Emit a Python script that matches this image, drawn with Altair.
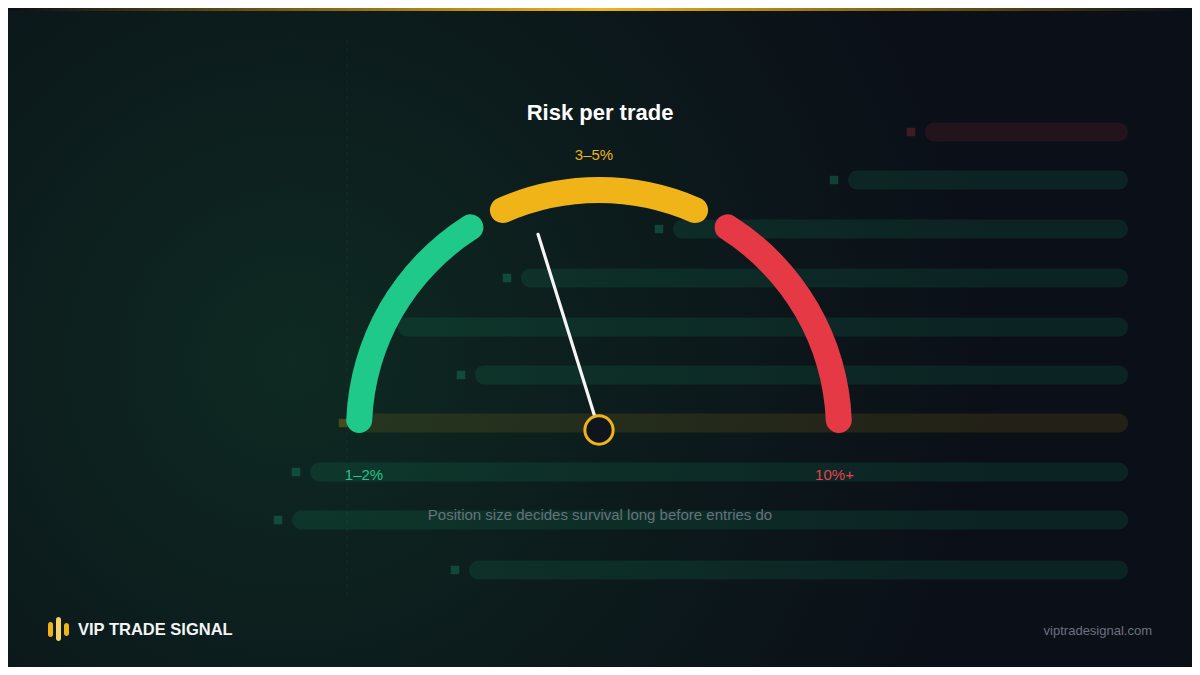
import math
import altair as alt
import pandas as pd

# ---------------- data ----------------
# gauge segments (angles in degrees, counter-clockwise from east)
SEGMENTS = ["1–2%", "3–5%", "10%+"]
SEG_START_DEG = [180.7, 116.7, 60.7]
SEG_END_DEG = [119.3, 63.3, -0.7]
SEG_COLORS = ["#1ec98a", "#f2b91c", "#e8404c"]

NEEDLE_DEG = [107.3]

# labels of the gauge
LABELS = ["1–2%", "3–5%", "10%+"]
LABEL_X = [364, 594, 834.5]
LABEL_Y = [475, 155, 475]
LABEL_COLORS = ["#25c48b", "#eab41c", "#e4434f"]

# decorative background bars
BAR_Y = [132, 180, 229, 278, 327, 375, 423, 472, 520, 570]
BAR_START = [925, 848, 673, 521, 398, 475, 357, 310, 292, 469]
BAR_END = [1128] * 10
BAR_TONE = ["red", "green", "green", "green", "green", "green", "yellow", "green", "green", "green"]

# logo bars
LOGO_X = [50.5, 58.5, 66.5]
LOGO_Y1 = [622, 617, 623]
LOGO_Y2 = [637, 641, 636]
LOGO_COLORS = ["#f0b418", "#f7d26a", "#f0b418"]

TITLE = "Risk per trade"
SUBTITLE = "Position size decides survival long before entries do"
BRAND = "VIP TRADE SIGNAL"
URL = "viptradesignal.com"

# ---------------- layout ----------------
W, H = 1184, 659
GAUGE_CX, GAUGE_CY = 599, 430
FONT = "Liberation Sans"

xs = alt.Scale(domain=[8, 8 + W], nice=False, zero=False)
ys = alt.Scale(domain=[8, 8 + H], nice=False, zero=False, reverse=True)


def X(f):
    return alt.X(f, type="quantitative", scale=xs, axis=None)


def Y(f):
    return alt.Y(f, type="quantitative", scale=ys, axis=None)


tone_scale = alt.Scale(domain=["green", "yellow", "red"], range=["#1ec98a", "#f0b418", "#e63946"])

# background gradient
bg = alt.Chart(pd.DataFrame({"a": [0]})).mark_rect(
    color={
        "gradient": "radial",
        "x1": 0.24, "y1": 0.52, "r1": 0.0,
        "x2": 0.24, "y2": 0.52, "r2": 0.6,
        "stops": [
            {"offset": 0.0, "color": "#0e2a22"},
            {"offset": 0.5, "color": "#0c1b1c"},
            {"offset": 1.0, "color": "#0b0f17"},
        ],
    }
).encode(x=alt.value(0), x2=alt.value(W), y=alt.value(0), y2=alt.value(H))

gold_line = alt.Chart(pd.DataFrame({"a": [0]})).mark_rect(
    color={
        "gradient": "linear",
        "x1": 0, "y1": 0, "x2": 1, "y2": 0,
        "stops": [
            {"offset": 0.0, "color": "#0b0f17"},
            {"offset": 0.5, "color": "#f0b418"},
            {"offset": 1.0, "color": "#0b0f17"},
        ],
    }
).encode(x=alt.value(0), x2=alt.value(W), y=alt.value(0), y2=alt.value(3))

vline = alt.Chart(pd.DataFrame({"x": [347], "y1": [40], "y2": [600]})).mark_rule(
    color="#1ec98a", opacity=0.07, strokeDash=[4, 4], strokeWidth=1
).encode(x=X("x"), y=Y("y1"), y2="y2:Q")

bars_df = pd.DataFrame({"row_y": BAR_Y, "start": BAR_START, "end": BAR_END, "tone": BAR_TONE})

bars = alt.Chart(bars_df).transform_calculate(
    y1="datum.row_y - 9.5", y2="datum.row_y + 9.5"
).mark_rect(cornerRadius=9.5, opacity=0.11).encode(
    x=X("start"), x2="end:Q", y=Y("y1"), y2="y2:Q",
    color=alt.Color("tone:N", scale=tone_scale, legend=None),
)

squares = alt.Chart(bars_df).transform_calculate(
    sx="datum.start - 14"
).mark_square(size=72, opacity=0.25).encode(
    x=X("sx"), y=Y("row_y"),
    color=alt.Color("tone:N", scale=tone_scale, legend=None),
)

seg_df = pd.DataFrame({
    "segment": SEGMENTS, "start": SEG_START_DEG, "end": SEG_END_DEG,
    "cx": [GAUGE_CX] * 3, "cy": [GAUGE_CY] * 3,
})

arcs = alt.Chart(seg_df).transform_calculate(
    t1="(90 - datum.start) * PI / 180 + 2 * PI",
    t2="(90 - datum.end) * PI / 180 + 2 * PI",
).mark_arc(innerRadius=227, outerRadius=253, cornerRadius=13).encode(
    x=X("cx"), y=Y("cy"),
    theta=alt.Theta("t1:Q", scale=None), theta2="t2:Q",
    color=alt.Color("segment:N", scale=alt.Scale(domain=SEGMENTS, range=SEG_COLORS), legend=None),
)

needle_df = pd.DataFrame({"deg": NEEDLE_DEG, "cx": [GAUGE_CX], "cy": [GAUGE_CY]})
needle = alt.Chart(needle_df).transform_calculate(
    rad="datum.deg * PI / 180",
).transform_calculate(
    x1="datum.cx + 15 * cos(datum.rad)", y1="datum.cy - 15 * sin(datum.rad)",
    x2="datum.cx + 205 * cos(datum.rad)", y2="datum.cy - 205 * sin(datum.rad)",
).mark_rule(color="#f5f5f5", strokeWidth=3.2, strokeCap="round").encode(
    x=X("x1"), y=Y("y1"), x2="x2:Q", y2="y2:Q"
)

hub = alt.Chart(needle_df).mark_point(
    shape="circle", size=800, filled=True, color="#10141c", stroke="#f0b418",
    strokeWidth=3, opacity=1, fillOpacity=1, strokeOpacity=1,
).encode(x=X("cx"), y=Y("cy"))

lab_df = pd.DataFrame({"label": LABELS, "x": LABEL_X, "y": LABEL_Y, "c": LABEL_COLORS})
labels = alt.Chart(lab_df).mark_text(font=FONT, fontSize=15, baseline="middle", align="center").encode(
    x=X("x"), y=Y("y"), text="label:N", color=alt.Color("c:N", scale=None)
)

txt_df = pd.DataFrame({
    "t": [TITLE, SUBTITLE],
    "x": [600, 600], "y": [113, 515],
})
title = alt.Chart(txt_df.iloc[[0]]).mark_text(
    font=FONT, fontSize=22, fontWeight="bold", color="#ffffff", baseline="middle"
).encode(x=X("x"), y=Y("y"), text="t:N")
subtitle = alt.Chart(txt_df.iloc[[1]]).mark_text(
    font=FONT, fontSize=15, color="#66737a", baseline="middle"
).encode(x=X("x"), y=Y("y"), text="t:N")

logo_df = pd.DataFrame({"x": LOGO_X, "y1": LOGO_Y1, "y2": LOGO_Y2, "c": LOGO_COLORS})
logo = alt.Chart(logo_df).transform_calculate(
    xa="datum.x - 2.5", xb="datum.x + 2.5"
).mark_rect(cornerRadius=2.5).encode(
    x=X("xa"), x2="xb:Q", y=Y("y1"), y2="y2:Q", color=alt.Color("c:N", scale=None)
)

brand = alt.Chart(pd.DataFrame({"t": [BRAND], "x": [78], "y": [630]})).mark_text(
    font=FONT, fontSize=16.5, fontWeight="bold", color="#f2f4f5", align="left", baseline="middle"
).encode(x=X("x"), y=Y("y"), text="t:N")

url = alt.Chart(pd.DataFrame({"t": [URL], "x": [1152], "y": [631]})).mark_text(
    font=FONT, fontSize=13, color="#6b7280", align="right", baseline="middle"
).encode(x=X("x"), y=Y("y"), text="t:N")

chart = alt.layer(
    bg, gold_line, vline, bars, squares, arcs, needle, hub, labels, title, subtitle, logo, brand, url
).properties(
    width=W, height=H, padding=0, autosize=alt.AutoSizeParams(type="none")
).configure(background="#0b0f17").configure_view(stroke=None)

chart.save("out.html", embed_options={"renderer": "svg", "actions": False})
